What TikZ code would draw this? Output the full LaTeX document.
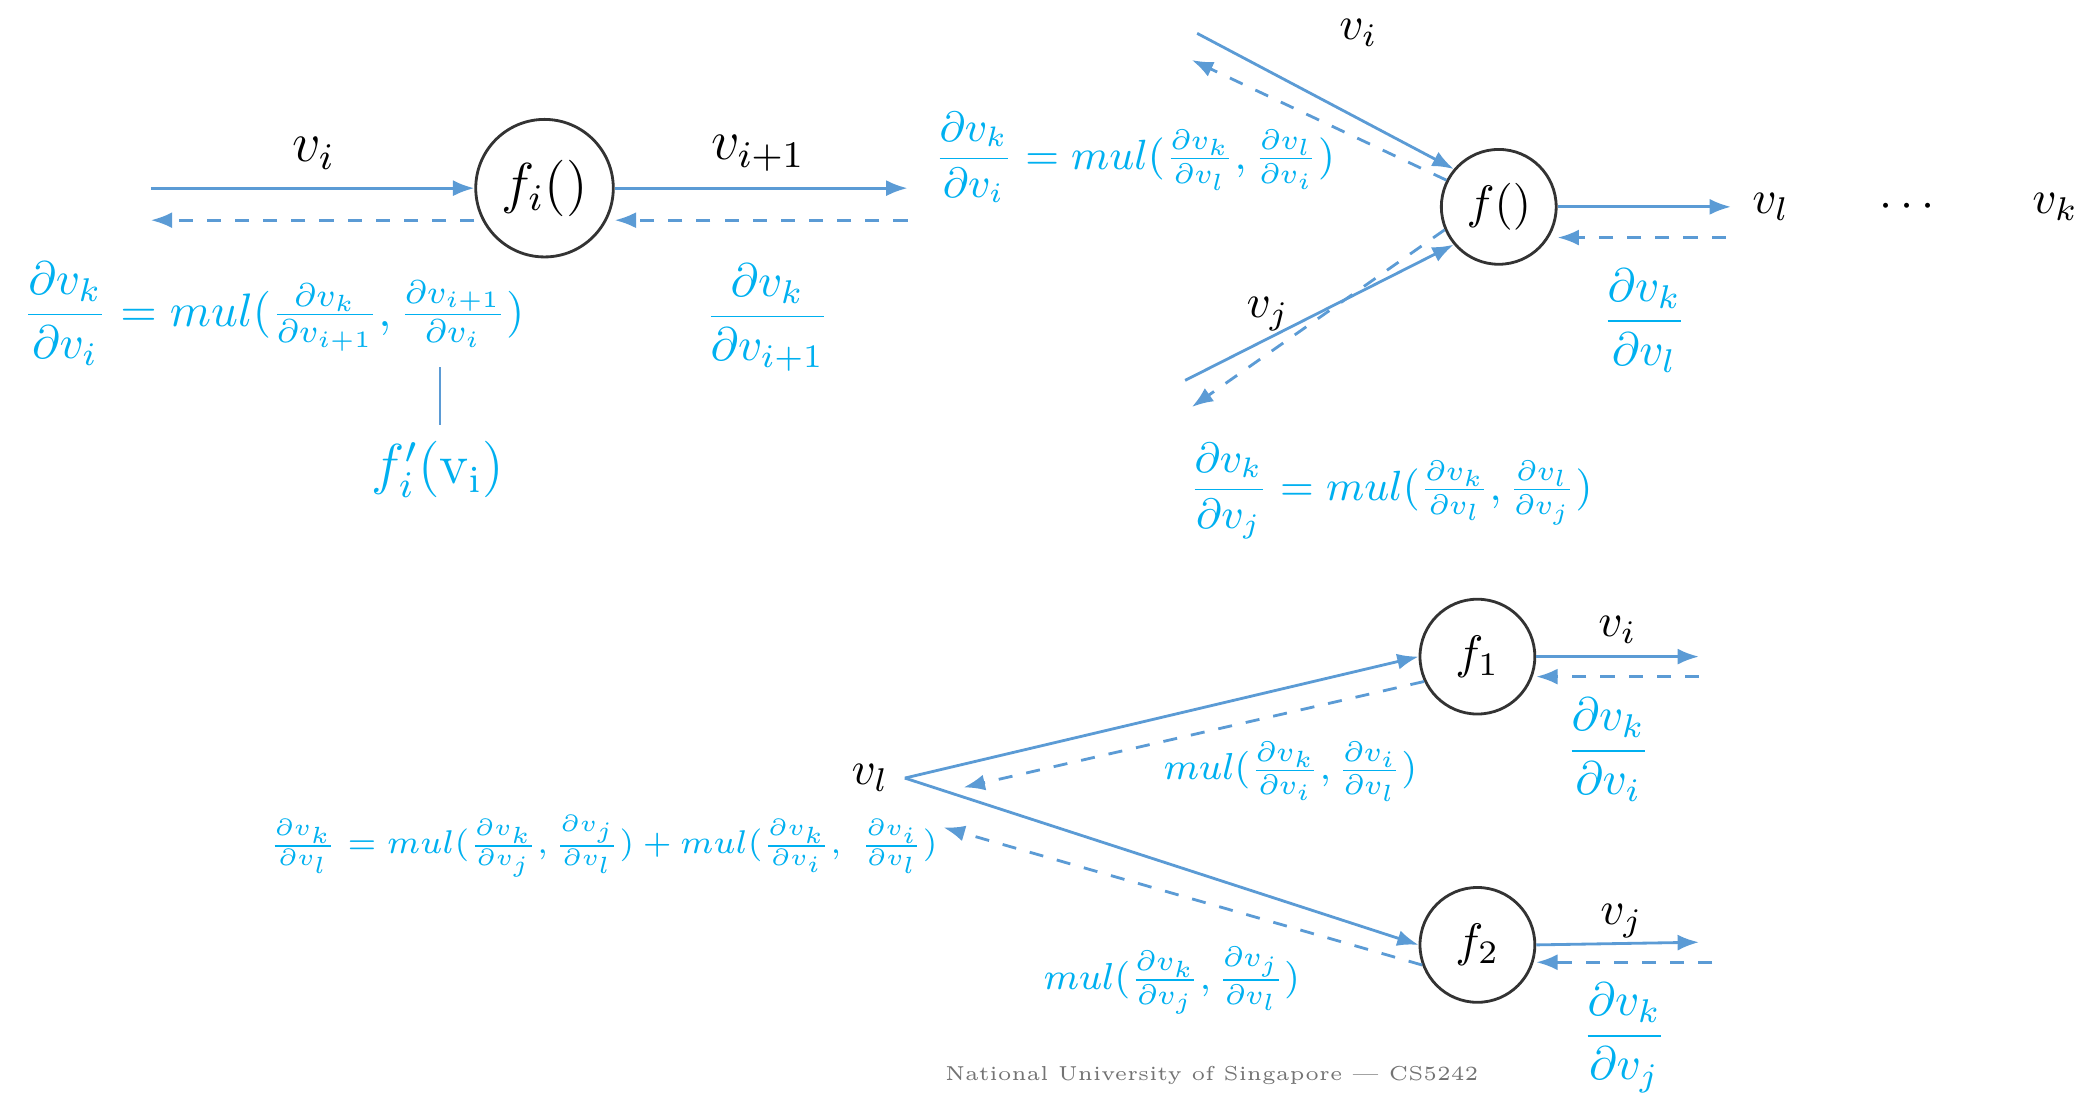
\documentclass[tikz,border=0pt]{standalone}
\usepackage{amsmath}
\usetikzlibrary{positioning, arrows.meta}
\definecolor{edgeblue}{HTML}{5B9BD5}
\definecolor{gradcyan}{HTML}{00B0F0}
\tikzset{
fnode/.style={circle, draw=black!80, semithick, fill=white, inner sep=0pt}, % function nodes
fwd/.style={-{Latex[length=1.6mm]}, edgeblue, semithick}, % forward edges
bwd/.style={-{Latex[length=1.6mm]}, edgeblue, semithick, dashed}, % backward edges
grad/.style={text=gradcyan, font=\normalsize}, % gradient labels
lbl/.style={font=\normalsize}, % value labels
}
\begin{document}
\begin{tikzpicture}[x=0.01cm, y=-0.01cm]
\useasboundingbox (0,0) rectangle (1560,822);
% single chain
\node[fnode, minimum size=1.03cm] (fi) at (408,141) {\large$f_i()$};
\coordinate (ain) at (113,141); \coordinate (aout) at (680,141);
\coordinate (bin) at (113,165); \coordinate (bout) at (680,165);
\draw[fwd] (ain) -- (fi.west);
\draw[bwd] (fi.west |- bin) -- (bin);
\draw[fwd] (fi.east) -- (aout);
\draw[bwd] (bout) -- (fi.east |- bout);
\node[lbl, font=\large] (vi) at (235,115) {$v_i$};
\node[lbl, font=\large] (vip) at (568,115) {$v_{i+1}$};
\node[grad] (chain) at (205,235) {$\dfrac{\partial v_k}{\partial v_i}=mul(\frac{\partial v_k}{\partial v_{i+1}},\frac{\partial v_{i+1}}{\partial v_i})$};
\node[grad] (gip) at (575,238) {$\dfrac{\partial v_k}{\partial v_{i+1}}$};
\node[grad, font=\large] (deriv) at (328,352) {$f_i'(\mathrm{v_i})$};
\coordinate (tk) at (330,275);
\draw[edgeblue] (tk) -- (deriv.north -| tk);
% fan in
\node[fnode, minimum size=0.86cm] (f) at (1123,155) {$f()$};
\coordinate (pi) at (897,25); \coordinate (qi) at (893,45);
\coordinate (pj) at (888,285); \coordinate (qj) at (893,305);
\coordinate (pl) at (1297,155); \coordinate (ql) at (1293,178);
\draw[fwd] (pi) -- (f.140);
\draw[bwd] (f.153) -- (qi);
\draw[fwd] (pj) -- (f.220);
\draw[bwd] (f.203) -- (qj);
\draw[fwd] (f.east) -- (pl);
\draw[bwd] (ql) -- (f.east |- ql);
\node[lbl] (fvi) at (1018,25) {$v_i$};
\node[lbl] (fvj) at (950,235) {$v_j$};
\node[lbl] (fvl) at (1327,155) {$v_l$};
\node[lbl] (dots) at (1432,155) {$\cdots$};
\node[lbl] (fvk) at (1540,155) {$v_k$};
\node[grad] (gl) at (1232,240) {$\dfrac{\partial v_k}{\partial v_l}$};
\node[grad, font=\small] (gi) at (850,118) {$\dfrac{\partial v_k}{\partial v_i}=mul(\frac{\partial v_k}{\partial v_l},\frac{\partial v_l}{\partial v_i})$};
\node[grad, font=\small] (gj) at (1042,368) {$\dfrac{\partial v_k}{\partial v_j}=mul(\frac{\partial v_k}{\partial v_l},\frac{\partial v_l}{\partial v_j})$};
% fan out
\node[fnode, minimum size=0.86cm] (f1) at (1107,492) {$f_1$};
\node[fnode, minimum size=0.86cm] (f2) at (1107,708) {$f_2$};
\coordinate (src) at (678,583);
\coordinate (r1) at (722,590); \coordinate (r2) at (707,620);
\coordinate (o1) at (1273,492); \coordinate (p1) at (1273,507);
\coordinate (o2) at (1273,706); \coordinate (p2) at (1283,721);
\draw[fwd] (src) -- (f1.west);
\draw[fwd] (src) -- (f2.west);
\draw[bwd] (f1.205) -- (r1);
\draw[bwd] (f2.200) -- (r2);
\draw[fwd] (f1.east) -- (o1);
\draw[bwd] (p1) -- (f1.east |- p1);
\draw[fwd] (f2.east) -- (o2);
\draw[bwd] (p2) -- (f2.east |- p2);
\node[lbl] (bvl) at (652,583) {$v_l$};
\node[lbl] (bvi) at (1212,472) {$v_i$};
\node[lbl] (bvj) at (1215,690) {$v_j$};
\node[grad] (bgi) at (1205,562) {$\dfrac{\partial v_k}{\partial v_i}$};
\node[grad] (bgj) at (1217,778) {$\dfrac{\partial v_k}{\partial v_j}$};
\node[grad, font=\footnotesize] (m1) at (967,578) {$mul(\frac{\partial v_k}{\partial v_i},\frac{\partial v_i}{\partial v_l})$};
\node[grad, font=\footnotesize] (m2) at (878,735) {$mul(\frac{\partial v_k}{\partial v_j},\frac{\partial v_j}{\partial v_l})$};
\node[grad, font=\scriptsize] (sum) at (452,634) {$\frac{\partial v_k}{\partial v_l}=mul(\frac{\partial v_k}{\partial v_j},\frac{\partial v_j}{\partial v_l})+mul(\frac{\partial v_k}{\partial v_i},\ \frac{\partial v_i}{\partial v_l})$};
\node[text=black!55, font=\fontsize{4.3}{5}\selectfont] (foot) at (908,806) {National University of Singapore --- CS5242};
\end{tikzpicture}
\end{document}
